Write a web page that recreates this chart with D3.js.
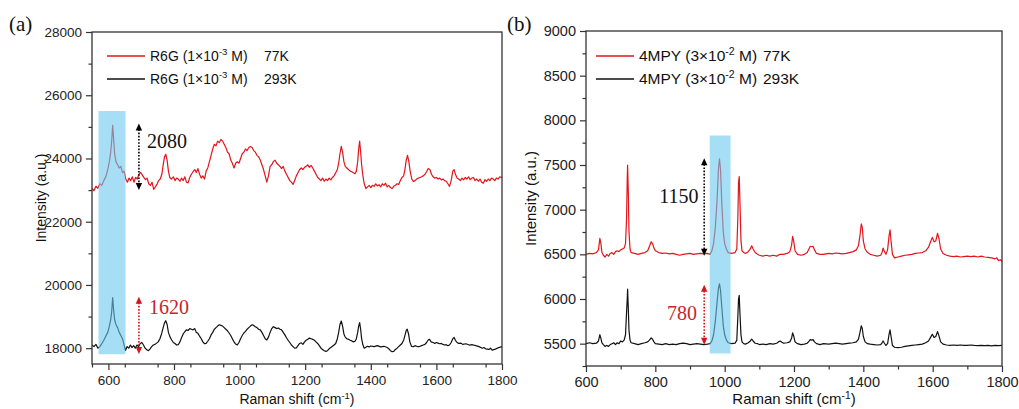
<!DOCTYPE html>
<html><head><meta charset="utf-8">
<script src="https://cdn.jsdelivr.net/npm/d3@7"></script>
<style>body{margin:0;background:#fff} svg{display:block}</style>
</head><body><svg id="c" width="1019" height="409"></svg>
<script>
// ---------- DATA ----------
const r6g77K = [[550,23050],[556,22980],[562,23120],[568,23060],[574,23200],[580,23150],[586,23300],[592,23420],[598,23650],[603,23900],[607,24200],[610,24550],[613,25050],[616,24600],[619,24150],[623,23900],[628,23800],[633,23700],[638,23750],[643,23550],[648,23600],[653,23350],[658,23250],[663,23380],[668,23300],[673,23420],[678,23250],[683,23400],[688,23350],[693,23500],[698,23560],[703,23480],[708,23400],[713,23330],[718,23380],[723,23200],[728,23150],[733,23250],[738,23020],[743,23100],[748,23180],[753,23300],[758,23350],[763,23500],[767,23800],[771,24050],[775,24130],[779,23950],[783,23600],[787,23400],[792,23350],[798,23420],[803,23300],[808,23380],[813,23350],[818,23280],[823,23380],[828,23300],[833,23420],[838,23250],[843,23230],[848,23400],[853,23500],[858,23580],[863,23650],[868,23560],[873,23680],[878,23500],[883,23380],[888,23450],[893,23350],[898,23600],[903,23700],[908,23900],[913,24100],[918,24300],[923,24450],[928,24400],[933,24550],[938,24500],[943,24600],[948,24550],[953,24450],[958,24350],[963,24200],[968,24150],[973,23950],[978,23850],[983,23700],[988,23850],[993,23900],[998,23850],[1003,24000],[1008,24150],[1013,24200],[1018,24300],[1023,24250],[1028,24350],[1033,24380],[1038,24350],[1043,24250],[1048,24200],[1053,24100],[1058,24050],[1063,23950],[1068,23800],[1073,23650],[1078,23450],[1083,23250],[1088,23450],[1093,23750],[1098,23800],[1103,23900],[1108,23950],[1113,23850],[1118,23800],[1123,23750],[1128,23680],[1133,23750],[1138,23600],[1143,23500],[1148,23400],[1153,23300],[1158,23250],[1163,23180],[1168,23300],[1173,23450],[1178,23550],[1183,23650],[1188,23700],[1193,23650],[1198,23720],[1203,23750],[1208,23800],[1213,23720],[1218,23780],[1223,23700],[1228,23600],[1233,23500],[1238,23400],[1243,23350],[1248,23300],[1253,23380],[1258,23280],[1263,23350],[1268,23300],[1273,23380],[1278,23320],[1283,23400],[1288,23450],[1293,23550],[1298,23650],[1302,23850],[1306,24150],[1310,24380],[1314,24200],[1318,23900],[1322,23750],[1327,23700],[1332,23650],[1337,23600],[1342,23580],[1347,23550],[1352,23520],[1356,23600],[1360,23900],[1363,24300],[1366,24550],[1369,24200],[1372,23800],[1376,23450],[1380,23200],[1385,23050],[1390,23100],[1395,23150],[1400,23080],[1405,23150],[1410,23120],[1415,23200],[1420,23130],[1425,23170],[1430,23100],[1435,23200],[1440,23150],[1445,23220],[1450,23100],[1455,23150],[1460,23080],[1465,23050],[1470,23120],[1475,23150],[1480,23200],[1485,23180],[1490,23300],[1495,23400],[1500,23450],[1504,23650],[1508,23950],[1512,24100],[1516,23900],[1520,23600],[1525,23350],[1530,23270],[1535,23300],[1540,23350],[1545,23380],[1550,23400],[1555,23420],[1560,23450],[1565,23500],[1570,23580],[1575,23680],[1580,23650],[1585,23500],[1590,23420],[1595,23380],[1600,23400],[1605,23350],[1610,23380],[1615,23320],[1620,23350],[1625,23300],[1630,23280],[1635,23200],[1640,23120],[1645,23300],[1650,23600],[1654,23650],[1658,23500],[1663,23380],[1668,23350],[1673,23300],[1678,23380],[1683,23320],[1688,23400],[1693,23350],[1698,23420],[1703,23330],[1708,23380],[1713,23400],[1718,23300],[1723,23350],[1728,23280],[1733,23350],[1738,23250],[1743,23220],[1748,23330],[1753,23280],[1758,23350],[1763,23300],[1768,23380],[1773,23350],[1778,23300],[1783,23380],[1788,23350],[1793,23420],[1798,23400],[1800,23420]];

const r6g293K = [[550,18100],[556,18050],[562,18120],[568,18000],[574,18050],[580,18150],[586,18250],[592,18380],[598,18500],[603,18700],[607,18900],[610,19150],[613,19600],[616,19200],[619,18900],[623,18750],[628,18650],[633,18500],[638,18400],[643,18300],[648,18100],[652,17930],[657,18050],[662,18000],[667,18100],[672,18020],[677,18080],[682,18000],[687,18100],[692,18050],[697,18150],[702,18180],[707,18100],[712,18000],[717,17950],[722,17920],[727,17980],[732,18050],[737,18100],[742,18120],[747,18160],[752,18200],[757,18300],[762,18450],[767,18650],[771,18800],[775,18870],[779,18750],[783,18500],[788,18350],[793,18260],[798,18180],[803,18150],[808,18100],[813,18110],[818,18200],[823,18330],[828,18450],[833,18520],[838,18580],[843,18560],[848,18620],[853,18600],[858,18580],[863,18620],[868,18500],[873,18470],[878,18380],[883,18300],[888,18200],[893,18140],[898,18150],[903,18220],[908,18300],[913,18420],[918,18500],[923,18600],[928,18650],[933,18700],[938,18740],[943,18720],[948,18700],[953,18650],[958,18600],[963,18550],[968,18480],[973,18400],[978,18300],[983,18200],[988,18130],[993,18100],[998,18180],[1003,18300],[1008,18400],[1013,18480],[1018,18530],[1023,18600],[1028,18650],[1033,18700],[1038,18740],[1043,18720],[1048,18680],[1053,18650],[1058,18600],[1063,18580],[1068,18500],[1073,18400],[1078,18300],[1083,18260],[1088,18350],[1093,18500],[1098,18620],[1103,18680],[1108,18650],[1113,18620],[1118,18640],[1123,18600],[1128,18580],[1133,18500],[1138,18420],[1143,18330],[1148,18250],[1153,18180],[1158,18100],[1163,18050],[1168,18000],[1173,18010],[1178,18080],[1183,18150],[1188,18170],[1193,18120],[1198,18200],[1203,18250],[1208,18280],[1213,18320],[1218,18300],[1223,18280],[1228,18250],[1233,18200],[1238,18150],[1243,18080],[1248,18000],[1253,17960],[1258,17920],[1263,17900],[1268,17920],[1273,17980],[1278,18020],[1283,18060],[1288,18100],[1293,18150],[1298,18300],[1302,18500],[1306,18750],[1310,18860],[1314,18700],[1318,18450],[1322,18350],[1327,18300],[1332,18280],[1337,18250],[1342,18230],[1347,18200],[1352,18220],[1356,18300],[1360,18500],[1363,18700],[1366,18810],[1369,18600],[1372,18300],[1376,18100],[1380,18000],[1385,18030],[1390,18060],[1395,18040],[1400,18070],[1410,18050],[1420,18080],[1430,18040],[1440,18060],[1450,18020],[1455,17980],[1460,17920],[1465,17890],[1470,17900],[1475,17960],[1480,18000],[1485,18050],[1490,18100],[1495,18150],[1500,18250],[1504,18400],[1508,18560],[1511,18600],[1515,18450],[1519,18200],[1524,18060],[1530,18050],[1535,18080],[1540,18060],[1545,18050],[1550,18060],[1555,18080],[1560,18100],[1565,18120],[1570,18180],[1575,18260],[1579,18280],[1584,18200],[1590,18180],[1595,18150],[1600,18180],[1605,18160],[1610,18140],[1615,18150],[1620,18120],[1625,18100],[1630,18110],[1635,18080],[1640,18100],[1645,18180],[1650,18300],[1654,18340],[1658,18250],[1663,18180],[1668,18150],[1675,18160],[1680,18120],[1690,18140],[1700,18100],[1710,18110],[1720,18080],[1730,18050],[1740,18000],[1745,18020],[1750,17980],[1760,17960],[1765,18000],[1770,17940],[1780,17970],[1790,18020],[1800,18050]];

const mpy77K = [[600,6500],[610,6510],[620,6505],[630,6520],[636,6550],[640,6680],[643,6620],[646,6520],[650,6490],[655,6470],[660,6500],[665,6480],[670,6510],[675,6520],[680,6500],[685,6530],[690,6540],[695,6530],[700,6550],[705,6560],[710,6570],[714,6620],[717,6900],[719,7350],[720,7500],[722,7200],[724,6750],[727,6560],[730,6520],[740,6510],[750,6500],[760,6510],[770,6520],[778,6540],[783,6590],[788,6640],[792,6620],[796,6570],[800,6540],[810,6520],[820,6510],[830,6515],[840,6505],[850,6510],[860,6500],[870,6490],[880,6500],[890,6505],[900,6510],[910,6500],[920,6505],[930,6510],[940,6505],[950,6510],[958,6500],[963,6540],[968,6620],[973,6800],[978,7100],[982,7450],[985,7570],[988,7450],[992,7050],[996,6750],[1000,6620],[1005,6560],[1010,6520],[1020,6510],[1030,6520],[1035,6560],[1038,6900],[1040,7300],[1042,7370],[1044,7100],[1047,6650],[1050,6540],[1055,6520],[1060,6510],[1068,6530],[1074,6560],[1078,6595],[1082,6560],[1088,6520],[1095,6500],[1100,6490],[1110,6480],[1120,6490],[1130,6480],[1140,6490],[1150,6480],[1160,6500],[1170,6500],[1180,6510],[1188,6530],[1193,6600],[1196,6700],[1199,6650],[1203,6540],[1210,6500],[1220,6490],[1230,6500],[1238,6520],[1243,6560],[1247,6590],[1251,6585],[1255,6590],[1259,6550],[1265,6510],[1275,6500],[1285,6500],[1300,6510],[1310,6505],[1320,6515],[1330,6510],[1340,6505],[1350,6510],[1360,6520],[1370,6530],[1380,6550],[1386,6600],[1390,6700],[1394,6840],[1397,6800],[1400,6650],[1405,6560],[1412,6520],[1420,6500],[1430,6490],[1440,6480],[1450,6490],[1454,6520],[1457,6570],[1460,6540],[1465,6500],[1470,6550],[1474,6700],[1477,6775],[1480,6650],[1484,6500],[1490,6460],[1500,6470],[1510,6480],[1520,6490],[1530,6495],[1540,6500],[1550,6510],[1560,6515],[1570,6520],[1580,6540],[1588,6580],[1594,6640],[1599,6690],[1604,6640],[1609,6650],[1614,6735],[1618,6680],[1623,6560],[1630,6510],[1640,6490],[1650,6480],[1660,6475],[1670,6480],[1680,6470],[1690,6475],[1700,6480],[1710,6475],[1720,6480],[1730,6470],[1740,6480],[1750,6470],[1760,6465],[1770,6460],[1780,6450],[1785,6460],[1790,6430],[1795,6440],[1800,6420]];

const mpy293K = [[600,5500],[610,5510],[620,5500],[630,5505],[636,5530],[640,5600],[643,5560],[646,5510],[650,5490],[655,5470],[660,5480],[665,5470],[670,5490],[675,5500],[680,5510],[685,5490],[690,5510],[695,5500],[700,5530],[705,5520],[710,5540],[714,5600],[717,5850],[719,6000],[720,6110],[722,5900],[724,5650],[727,5540],[730,5510],[740,5500],[750,5490],[760,5500],[770,5510],[778,5520],[783,5540],[788,5565],[792,5550],[796,5520],[800,5500],[810,5495],[820,5490],[830,5500],[840,5490],[850,5495],[860,5490],[870,5500],[880,5505],[890,5500],[900,5490],[910,5495],[920,5500],[930,5495],[940,5490],[950,5495],[958,5500],[963,5530],[968,5600],[973,5750],[978,5960],[982,6120],[985,6170],[988,6100],[992,5900],[996,5700],[1000,5600],[1005,5540],[1010,5510],[1020,5500],[1030,5505],[1035,5540],[1038,5800],[1040,6000],[1042,6040],[1044,5850],[1047,5600],[1050,5520],[1055,5500],[1060,5495],[1068,5510],[1074,5530],[1078,5550],[1082,5530],[1088,5505],[1095,5500],[1100,5490],[1110,5495],[1120,5490],[1130,5500],[1140,5495],[1150,5505],[1155,5520],[1160,5530],[1165,5515],[1170,5505],[1180,5510],[1188,5520],[1193,5560],[1196,5620],[1199,5590],[1203,5520],[1210,5500],[1220,5490],[1230,5495],[1238,5505],[1243,5525],[1247,5545],[1251,5540],[1255,5545],[1259,5520],[1265,5500],[1275,5490],[1285,5500],[1300,5495],[1310,5500],[1320,5505],[1330,5500],[1340,5495],[1350,5500],[1360,5505],[1370,5510],[1380,5520],[1386,5550],[1390,5620],[1394,5700],[1397,5670],[1400,5580],[1405,5520],[1412,5500],[1420,5495],[1430,5490],[1440,5485],[1450,5490],[1454,5510],[1457,5530],[1460,5510],[1465,5480],[1470,5500],[1474,5600],[1477,5655],[1480,5580],[1484,5480],[1490,5460],[1500,5455],[1510,5460],[1520,5470],[1530,5475],[1540,5480],[1550,5485],[1560,5490],[1570,5495],[1580,5510],[1588,5530],[1594,5570],[1599,5605],[1604,5570],[1609,5580],[1614,5635],[1618,5590],[1623,5520],[1630,5495],[1640,5485],[1650,5480],[1660,5485],[1670,5480],[1680,5485],[1690,5480],[1700,5480],[1710,5485],[1720,5480],[1730,5478],[1740,5480],[1750,5478],[1760,5480],[1770,5475],[1780,5480],[1790,5478],[1800,5480]];

const leftXTicks = [600,800,1000,1200,1400,1600,1800];
const leftYTicks = [18000,20000,22000,24000,26000,28000];
const rightXTicks = [600,800,1000,1200,1400,1600,1800];
const rightYTicks = [5500,6000,6500,7000,7500,8000,8500,9000];

const leftLegend = [["R6G (1×10","-3"," M)","77K"],["R6G (1×10","-3"," M)","293K"]];
const rightLegend = [["4MPY (3×10","-2"," M)","77K"],["4MPY (3×10","-2"," M)","293K"]];

// highlight bands [x0,x1,y0,y1]
const leftBand = [570,652,17810,25500];
const rightBand = [957,1017,5390,7830];
// arrows [x, yLow, yHigh, label, labelX, labelY]
const leftArrows = [[693,23000,25110,"2080",718,24330],[693,17820,19630,"1620",724,19080]];
const rightArrows = [[941,6483,7576,"1150",811,7075],[941,5488,6159,"780",834,5765]];

// ---------- LAYOUT ----------
const svg = d3.select("#c");
const RED = "#e3141b", BLK = "#111", LBL_RED = "#c7252c", AX = "#333";
const SANS = "'Liberation Sans', Arial, sans-serif";

function panel(o){
  const fs = o.fs;
  const x = d3.scaleLinear().domain(o.xd).range([o.l, o.r]);
  const y = d3.scaleLinear().domain(o.yd).range([o.b, o.t]);
  const g = svg.append("g");
  const line = d3.line().x(d=>x(d[0])).y(d=>y(d[1]));
  o.series.forEach((s,i)=>{
    g.append("path").datum(s).attr("d",line).attr("fill","none")
      .attr("stroke", i===0?RED:BLK).attr("stroke-width",1.2).attr("stroke-linejoin","round");
  });
  const bd = o.band;
  g.append("rect").attr("x",x(bd[0])).attr("width",x(bd[1])-x(bd[0]))
    .attr("y",y(bd[3])).attr("height",y(bd[2])-y(bd[3]))
    .attr("fill","#69c8ee").attr("opacity",0.6);
  g.append("rect").attr("x",o.l).attr("y",o.t).attr("width",o.r-o.l).attr("height",o.b-o.t)
    .attr("fill","none").attr("stroke",AX).attr("stroke-width",1.3);
  const fontTick = `${fs.tick}px ${SANS}`;
  const xMinor = d3.range(o.xd[0], o.xd[1]+1, 100).filter(v=>v>=o.xd[0] && !o.xt.includes(v));
  const yMinor = d3.range(Math.ceil(o.yd[0]/o.ym)*o.ym, o.yd[1]+1, o.ym).filter(v=>!o.yt.includes(v));
  const xa = g.append("g").attr("transform",`translate(0,${o.b})`)
    .call(d3.axisBottom(x).tickValues(o.xt).tickSize(6).tickPadding(5).tickFormat(d3.format("d")));
  const xm = g.append("g").attr("transform",`translate(0,${o.b})`)
    .call(d3.axisBottom(x).tickValues(xMinor).tickSize(3.5).tickFormat(""));
  const ya = g.append("g").attr("transform",`translate(${o.l},0)`)
    .call(d3.axisLeft(y).tickValues(o.yt).tickSize(6).tickPadding(4).tickFormat(d3.format("d")));
  const ym = g.append("g").attr("transform",`translate(${o.l},0)`)
    .call(d3.axisLeft(y).tickValues(yMinor).tickSize(3.5).tickFormat(""));
  [xa,xm,ya,ym].forEach(a=>{
    a.select(".domain").remove();
    a.selectAll("line").attr("stroke",AX).attr("stroke-width",1.2);
    a.selectAll("text").style("font",fontTick).attr("fill","#222");
  });
  const xt = g.append("text").attr("x",(o.l+o.r)/2).attr("y",404).attr("text-anchor","middle")
    .style("font",`${fs.title}px ${SANS}`).attr("fill","#111");
  xt.append("tspan").text("Raman shift (cm");
  xt.append("tspan").text("-1").attr("dy",-5).style("font-size",`${fs.title*0.68}px`);
  xt.append("tspan").text(")").attr("dy",5);
  g.append("text").attr("transform",`translate(${o.ytx},${(o.t+o.b)/2}) rotate(-90)`)
    .attr("text-anchor","middle").style("font",`${fs.title}px ${SANS}`)
    .attr("fill","#111").text("Intensity (a.u.)");
  g.append("text").attr("x",o.lx).attr("y",31).style("font","21px 'Liberation Serif', 'Times New Roman', serif")
    .attr("fill","#111").text(o.letter);
  o.legend.forEach((L,i)=>{
    const yy = 56 + i*23;
    g.append("line").attr("x1",o.legX).attr("x2",o.legX+38).attr("y1",yy).attr("y2",yy)
      .attr("stroke", i===0?RED:BLK).attr("stroke-width",1.3);
    const t = g.append("text").attr("x",o.legX+43).attr("y",yy+5)
      .style("font",`${fs.leg}px ${SANS}`).attr("fill","#111");
    t.append("tspan").text(L[0]);
    t.append("tspan").text(L[1]).attr("dy",-6).style("font-size",`${fs.leg*0.68}px`);
    t.append("tspan").text(L[2]).attr("dy",6);
    g.append("text").attr("x",o.legKX).attr("y",yy+5)
      .style("font",`${fs.leg}px ${SANS}`).attr("fill","#111").text(L[3]);
  });
  o.arrows.forEach((A,i)=>{
    const col = i===0 ? "#000" : "#d8121a";
    const ax = x(A[0]), y1 = y(A[2]), y2 = y(A[1]);
    const h = 7, w = 3.2;
    g.append("line").attr("x1",ax).attr("x2",ax).attr("y1",y1+h-1).attr("y2",y2-h+1)
      .attr("stroke",col).attr("stroke-width",1.6).attr("stroke-dasharray","1.6,1.6");
    g.append("path").attr("d",`M${ax},${y1}L${ax-w},${y1+h}L${ax+w},${y1+h}Z`).attr("fill",col);
    g.append("path").attr("d",`M${ax},${y2}L${ax-w},${y2-h}L${ax+w},${y2-h}Z`).attr("fill",col);
    g.append("text").attr("x",x(A[4])).attr("y",y(A[5]))
      .style("font","20px 'Liberation Serif', 'Times New Roman', serif")
      .attr("fill", i===0 ? "#111" : LBL_RED).text(A[3]);
  });
}

panel({xd:[550,1800], yd:[17500,28000], l:92, r:502, t:32, b:364, fs:{tick:13.5, leg:14, title:14},
  xt:leftXTicks, yt:leftYTicks, ym:1000, series:[r6g77K, r6g293K], band:leftBand,
  arrows:leftArrows, legend:leftLegend, legX:107, legKX:264, ytx:46, lx:9, letter:"(a)"});
panel({xd:[600,1800], yd:[5250,9000], l:586, r:1002, t:31, b:366, fs:{tick:14.5, leg:15.5, title:15},
  xt:rightXTicks, yt:rightYTicks, ym:250, series:[mpy77K, mpy293K], band:rightBand,
  arrows:rightArrows, legend:rightLegend, legX:596, legKX:763, ytx:536, lx:507, letter:"(b)"});
</script></body></html>
